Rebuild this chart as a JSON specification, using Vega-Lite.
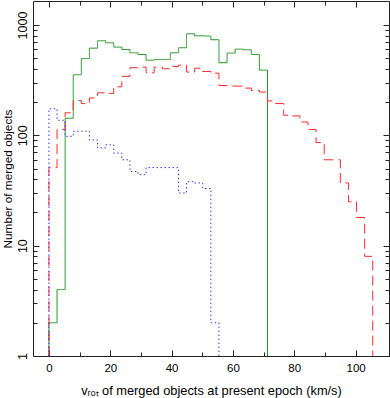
{
  "$schema": "https://vega.github.io/schema/vega-lite/v6.json",
  "width": 356,
  "height": 355,
  "autosize": "none",
  "padding": {"left": 33, "top": 1, "right": 1, "bottom": 42},
  "background": "white",
  "config": {
    "view": {"stroke": null},
    "font": "Liberation Sans",
    "axis": {
      "grid": false,
      "domainColor": "#222222",
      "tickColor": "#222222",
      "labelColor": "black",
      "titleColor": "black",
      "labelFontSize": 11.5,
      "titleFontSize": 12,
      "titleFontWeight": "normal",
      "labelFont": "Liberation Sans",
      "titleFont": "Liberation Sans"
    }
  },
  "data": {
    "values": [
      {"s": "s1", "i": 0, "v": 0, "n": 1},
      {"s": "s1", "i": 1, "v": 0, "n": 2},
      {"s": "s1", "i": 2, "v": 2.64, "n": 4},
      {"s": "s1", "i": 3, "v": 5.28, "n": 143},
      {"s": "s1", "i": 4, "v": 7.92, "n": 354},
      {"s": "s1", "i": 5, "v": 10.56, "n": 497},
      {"s": "s1", "i": 6, "v": 13.2, "n": 617},
      {"s": "s1", "i": 7, "v": 15.84, "n": 720},
      {"s": "s1", "i": 8, "v": 18.48, "n": 690},
      {"s": "s1", "i": 9, "v": 21.12, "n": 630},
      {"s": "s1", "i": 10, "v": 23.76, "n": 600},
      {"s": "s1", "i": 11, "v": 26.4, "n": 560},
      {"s": "s1", "i": 12, "v": 29.04, "n": 541},
      {"s": "s1", "i": 13, "v": 31.68, "n": 480},
      {"s": "s1", "i": 14, "v": 34.32, "n": 487},
      {"s": "s1", "i": 15, "v": 36.96, "n": 487},
      {"s": "s1", "i": 16, "v": 39.6, "n": 560},
      {"s": "s1", "i": 17, "v": 42.24, "n": 622},
      {"s": "s1", "i": 18, "v": 44.88, "n": 832},
      {"s": "s1", "i": 19, "v": 47.52, "n": 798},
      {"s": "s1", "i": 20, "v": 50.16, "n": 795},
      {"s": "s1", "i": 21, "v": 52.8, "n": 735},
      {"s": "s1", "i": 22, "v": 55.44, "n": 455},
      {"s": "s1", "i": 23, "v": 58.08, "n": 556},
      {"s": "s1", "i": 24, "v": 60.72, "n": 604},
      {"s": "s1", "i": 25, "v": 63.36, "n": 596},
      {"s": "s1", "i": 26, "v": 66, "n": 541},
      {"s": "s1", "i": 27, "v": 68.64, "n": 390},
      {"s": "s1", "i": 28, "v": 71.28, "n": 1},

      {"s": "s2", "i": 0, "v": 0, "n": 1},
      {"s": "s2", "i": 1, "v": 0, "n": 51},
      {"s": "s2", "i": 2, "v": 2.64, "n": 113},
      {"s": "s2", "i": 3, "v": 5.28, "n": 160},
      {"s": "s2", "i": 4, "v": 7.92, "n": 207},
      {"s": "s2", "i": 5, "v": 10.56, "n": 194},
      {"s": "s2", "i": 6, "v": 13.2, "n": 218},
      {"s": "s2", "i": 7, "v": 15.84, "n": 243},
      {"s": "s2", "i": 8, "v": 18.48, "n": 240},
      {"s": "s2", "i": 9, "v": 21.12, "n": 275},
      {"s": "s2", "i": 10, "v": 23.76, "n": 342},
      {"s": "s2", "i": 11, "v": 26.4, "n": 410},
      {"s": "s2", "i": 12, "v": 29.04, "n": 415},
      {"s": "s2", "i": 13, "v": 31.68, "n": 369},
      {"s": "s2", "i": 14, "v": 34.32, "n": 415},
      {"s": "s2", "i": 15, "v": 36.96, "n": 401},
      {"s": "s2", "i": 16, "v": 39.6, "n": 420},
      {"s": "s2", "i": 17, "v": 42.24, "n": 433},
      {"s": "s2", "i": 18, "v": 44.88, "n": 374},
      {"s": "s2", "i": 19, "v": 47.52, "n": 406},
      {"s": "s2", "i": 20, "v": 50.16, "n": 379},
      {"s": "s2", "i": 21, "v": 52.8, "n": 366},
      {"s": "s2", "i": 22, "v": 55.44, "n": 283},
      {"s": "s2", "i": 23, "v": 58.08, "n": 280},
      {"s": "s2", "i": 24, "v": 60.72, "n": 279},
      {"s": "s2", "i": 25, "v": 63.36, "n": 268},
      {"s": "s2", "i": 26, "v": 66, "n": 255},
      {"s": "s2", "i": 27, "v": 68.64, "n": 247},
      {"s": "s2", "i": 28, "v": 71.28, "n": 205},
      {"s": "s2", "i": 29, "v": 73.92, "n": 194},
      {"s": "s2", "i": 30, "v": 76.56, "n": 152},
      {"s": "s2", "i": 31, "v": 79.2, "n": 150},
      {"s": "s2", "i": 32, "v": 81.84, "n": 132},
      {"s": "s2", "i": 33, "v": 84.48, "n": 113},
      {"s": "s2", "i": 34, "v": 87.12, "n": 86},
      {"s": "s2", "i": 35, "v": 89.76, "n": 60},
      {"s": "s2", "i": 36, "v": 92.4, "n": 60},
      {"s": "s2", "i": 37, "v": 95.04, "n": 37},
      {"s": "s2", "i": 38, "v": 97.68, "n": 25},
      {"s": "s2", "i": 39, "v": 100.32, "n": 18},
      {"s": "s2", "i": 40, "v": 102.96, "n": 8},
      {"s": "s2", "i": 41, "v": 105.6, "n": 1},

      {"s": "s3", "i": 0, "v": 0, "n": 1},
      {"s": "s3", "i": 1, "v": 0, "n": 174},
      {"s": "s3", "i": 2, "v": 2.64, "n": 137},
      {"s": "s3", "i": 3, "v": 5.28, "n": 98},
      {"s": "s3", "i": 4, "v": 7.92, "n": 109},
      {"s": "s3", "i": 5, "v": 10.56, "n": 109},
      {"s": "s3", "i": 6, "v": 13.2, "n": 91},
      {"s": "s3", "i": 7, "v": 15.84, "n": 77},
      {"s": "s3", "i": 8, "v": 18.48, "n": 82},
      {"s": "s3", "i": 9, "v": 21.12, "n": 69},
      {"s": "s3", "i": 10, "v": 23.76, "n": 60},
      {"s": "s3", "i": 11, "v": 26.4, "n": 47},
      {"s": "s3", "i": 12, "v": 29.04, "n": 44},
      {"s": "s3", "i": 13, "v": 31.68, "n": 51},
      {"s": "s3", "i": 14, "v": 34.32, "n": 51},
      {"s": "s3", "i": 15, "v": 36.96, "n": 51},
      {"s": "s3", "i": 16, "v": 39.6, "n": 51},
      {"s": "s3", "i": 17, "v": 42.24, "n": 30},
      {"s": "s3", "i": 18, "v": 44.88, "n": 38},
      {"s": "s3", "i": 19, "v": 47.52, "n": 37},
      {"s": "s3", "i": 20, "v": 50.16, "n": 33},
      {"s": "s3", "i": 21, "v": 52.8, "n": 2},
      {"s": "s3", "i": 22, "v": 55.44, "n": 1}
    ]
  },
  "layer": [
    {
      "mark": {"type": "line", "interpolate": "step-after", "strokeWidth": 1, "clip": true},
      "encoding": {
        "x": {
          "field": "v", "type": "quantitative",
          "scale": {"domain": [-5.2, 110.9], "nice": false, "zero": false},
          "axis": {
            "orient": "bottom",
            "values": [0, 10, 20, 30, 40, 50, 60, 70, 80, 90, 100],
            "labelExpr": "datum.value % 20 == 0 ? datum.label : ''",
            "tickSize": {"condition": {"test": "datum.value % 20 == 0", "value": -6}, "value": -4},
            "labelPadding": 12,
            "title": "vᵣₒₜ of merged objects at present epoch (km/s)",
            "titleFontSize": 12.8,
            "titlePadding": 11
          }
        },
        "y": {
          "field": "n", "type": "quantitative",
          "scale": {"type": "log", "domain": [1, 1650], "nice": false},
          "axis": {
            "orient": "left",
            "values": [1, 2, 3, 4, 5, 6, 7, 8, 9, 10, 20, 30, 40, 50, 60, 70, 80, 90, 100, 200, 300, 400, 500, 600, 700, 800, 900, 1000],
            "labelExpr": "datum.value == 1 || datum.value == 10 || datum.value == 100 || datum.value == 1000 ? format(datum.value, 'd') : ''",
            "tickSize": {"condition": {"test": "datum.value == 1 || datum.value == 10 || datum.value == 100 || datum.value == 1000", "value": -6}, "value": -4},
            "labelAngle": -90,
            "labelAlign": "center",
            "labelBaseline": "alphabetic",
            "labelFontSize": 12.5,
            "labelPadding": 13,
            "title": "Number of merged objects",
            "titleFontSize": 11.8,
            "titlePadding": 3
          }
        },
        "color": {
          "field": "s", "type": "nominal",
          "scale": {"domain": ["s1", "s2", "s3"], "range": ["#1f941f", "#ff2a2a", "#3535ff"]},
          "legend": null
        },
        "strokeDash": {
          "field": "s", "type": "nominal",
          "scale": {"domain": ["s1", "s2", "s3"], "range": [[1, 0], [10, 5], [1.5, 2.5]]},
          "legend": null
        },
        "order": {"field": "i", "type": "quantitative"}
      }
    },
    {
      "mark": {"type": "point", "opacity": 0},
      "encoding": {
        "x": {
          "field": "v", "type": "quantitative",
          "axis": {
            "orient": "top",
            "values": [0, 10, 20, 30, 40, 50, 60, 70, 80, 90, 100],
            "labels": false,
            "tickSize": {"condition": {"test": "datum.value % 20 == 0", "value": -6}, "value": -4},
            "title": null
          }
        },
        "y": {
          "field": "n", "type": "quantitative",
          "axis": {
            "orient": "right",
            "values": [1, 2, 3, 4, 5, 6, 7, 8, 9, 10, 20, 30, 40, 50, 60, 70, 80, 90, 100, 200, 300, 400, 500, 600, 700, 800, 900, 1000],
            "labels": false,
            "tickSize": {"condition": {"test": "datum.value == 1 || datum.value == 10 || datum.value == 100 || datum.value == 1000", "value": -6}, "value": -4},
            "title": null
          }
        }
      }
    }
  ],
  "resolve": {"axis": {"x": "independent", "y": "independent"}}
}
